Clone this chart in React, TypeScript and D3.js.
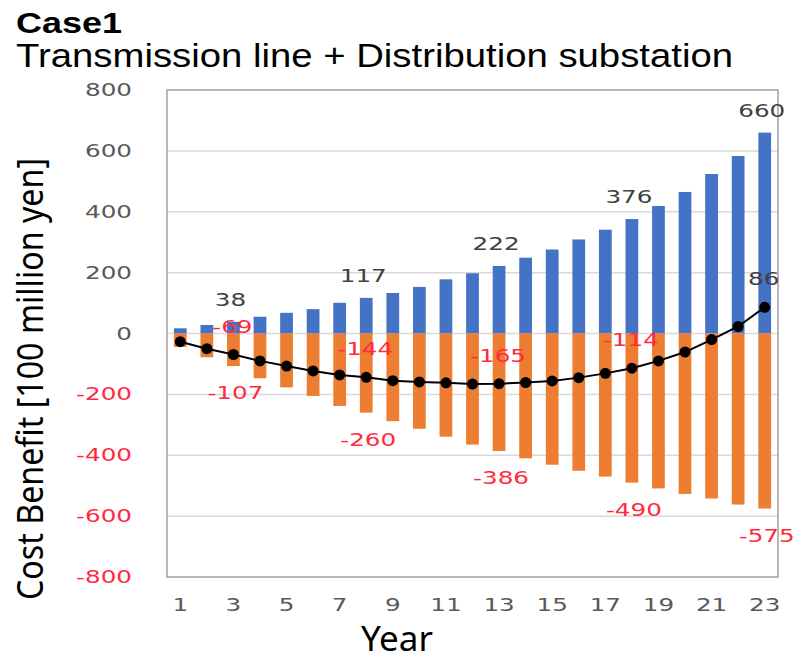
import * as d3 from "d3";
import { useEffect, useRef } from "react";

// values (100 million yen)
const years = [1, 2, 3, 4, 5, 6, 7, 8, 9, 10, 11, 12, 13, 14, 15, 16, 17, 18, 19, 20, 21, 22, 23];
const benefit = [17, 28, 38, 55, 68, 80, 101, 117, 133, 153, 178, 198, 222, 249, 276, 309, 341, 376, 419, 465, 524, 583, 660];
const cost = [-44, -78, -107, -147, -177, -205, -238, -260, -288, -313, -339, -365, -386, -410, -431, -451, -470, -490, -509, -527, -542, -562, -575];
const net = [-27, -50, -69, -90, -107, -123, -136, -144, -155, -159, -162, -166, -165, -161, -156, -145, -131, -114, -90, -61, -20, 23, 86];
const labelledYears = [3, 8, 13, 18, 23];
const yTicks = [800, 600, 400, 200, 0, -200, -400, -600, -800];
const xTicks = [1, 3, 5, 7, 9, 11, 13, 15, 17, 19, 21, 23];

const BLUE = "#4472c4";
const ORANGE = "#ed7d31";
const RED = "#ff2a3d";
const GRAY = "#595959";
const STRETCH = 1.45;

function App() {
  const ref = useRef<SVGSVGElement>(null);

  useEffect(() => {
    const svg = d3.select(ref.current);
    svg.selectAll("*").remove();

    const plot = { left: 167, right: 778, top: 90, bottom: 577 };

    const x = d3
      .scaleBand<number>()
      .domain(years)
      .range([plot.left, plot.right])
      .paddingInner(0.52)
      .paddingOuter(0.26);
    const cx = (yr: number) => (x(yr) as number) + x.bandwidth() / 2;

    const y = d3.scaleLinear().domain([-800, 800]).range([plot.bottom, plot.top]);

    // stretched chart text (the chart image in the slide is widened)
    const chartText = (g: any, px: number, py: number, txt: string, color: string, anchor = "middle") => {
      g.append("g")
        .attr("transform", `translate(${px},${py}) scale(${STRETCH},1)`)
        .append("text")
        .attr("text-anchor", anchor)
        .attr("dy", "0.36em")
        .style("font-family", "'DejaVu Sans', Verdana, sans-serif")
        .style("font-size", "17px")
        .style("fill", color)
        .text(txt);
    };

    // titles
    svg
      .append("text")
      .attr("x", 16)
      .attr("y", 33)
      .attr("textLength", 106)
      .attr("lengthAdjust", "spacingAndGlyphs")
      .style("font-family", "'Liberation Sans', Arial, sans-serif")
      .style("font-weight", "bold")
      .style("font-size", "29px")
      .style("fill", "#000")
      .text("Case1");

    svg
      .append("text")
      .attr("x", 16)
      .attr("y", 67)
      .attr("textLength", 717)
      .attr("lengthAdjust", "spacingAndGlyphs")
      .style("font-family", "'Liberation Sans', Arial, sans-serif")
      .style("font-size", "34px")
      .style("fill", "#000")
      .text("Transmission line + Distribution substation");

    // gridlines
    svg
      .append("g")
      .selectAll("line")
      .data(yTicks.filter((t) => t !== 800 && t !== -800))
      .join("line")
      .attr("x1", plot.left)
      .attr("x2", plot.right)
      .attr("y1", (d) => y(d))
      .attr("y2", (d) => y(d))
      .attr("stroke", "#d9d9d9")
      .attr("stroke-width", 1.5);

    // y tick labels
    const yLab = svg.append("g");
    yTicks.forEach((t) => chartText(yLab, 132, y(t), String(t), t < 0 ? RED : GRAY, "end"));

    // x tick labels
    const xLab = svg.append("g");
    xTicks.forEach((t) => chartText(xLab, cx(t), 605, String(t), GRAY));

    // bars
    svg
      .append("g")
      .selectAll("rect")
      .data(years.map((yr, i) => ({ yr, v: benefit[i] })))
      .join("rect")
      .attr("x", (d) => x(d.yr) as number)
      .attr("width", x.bandwidth())
      .attr("y", (d) => y(d.v))
      .attr("height", (d) => y(0) - y(d.v))
      .attr("fill", BLUE);

    svg
      .append("g")
      .selectAll("rect")
      .data(years.map((yr, i) => ({ yr, v: cost[i] })))
      .join("rect")
      .attr("x", (d) => x(d.yr) as number)
      .attr("width", x.bandwidth())
      .attr("y", y(0))
      .attr("height", (d) => y(d.v) - y(0))
      .attr("fill", ORANGE);

    // plot frame
    svg
      .append("rect")
      .attr("x", plot.left)
      .attr("y", plot.top)
      .attr("width", plot.right - plot.left)
      .attr("height", plot.bottom - plot.top)
      .attr("fill", "none")
      .attr("stroke", "#a0a0a0")
      .attr("stroke-width", 1.5);

    // net line
    const line = d3
      .line<number>()
      .x((_, i) => cx(years[i]))
      .y((d) => y(d));
    svg
      .append("path")
      .datum(net)
      .attr("d", line)
      .attr("fill", "none")
      .attr("stroke", "#000")
      .attr("stroke-width", 2);
    svg
      .append("g")
      .selectAll("circle")
      .data(net)
      .join("circle")
      .attr("cx", (_, i) => cx(years[i]))
      .attr("cy", (d) => y(d))
      .attr("r", 5.5)
      .attr("fill", "#000");

    // data labels
    const labels = svg.append("g");
    labelledYears.forEach((yr) => {
      const i = years.indexOf(yr);
      chartText(labels, cx(yr) - 3, y(benefit[i]) - 22, String(benefit[i]), "#404040");
      chartText(labels, cx(yr) + 2, y(cost[i]) + 27, String(cost[i]), RED);
      chartText(labels, cx(yr) - 1, y(net[i]) - 28, String(net[i]), net[i] < 0 ? RED : "#404040");
    });

    // axis titles
    svg
      .append("text")
      .attr("transform", "translate(43,379) rotate(-90)")
      .attr("text-anchor", "middle")
      .attr("textLength", 442)
      .attr("lengthAdjust", "spacingAndGlyphs")
      .style("font-family", "'Noto Sans', 'Open Sans', sans-serif")
      .style("font-size", "37px")
      .style("fill", "#000")
      .text("Cost Benefit [100 million yen]");

    svg
      .append("text")
      .attr("x", 397)
      .attr("y", 651)
      .attr("text-anchor", "middle")
      .style("font-family", "'Noto Sans', 'Open Sans', sans-serif")
      .style("font-size", "35px")
      .style("fill", "#000")
      .text("Year");
  }, []);

  return (
    <svg
      ref={ref}
      width={800}
      height={660}
      style={{ position: "absolute", left: 0, top: 0, display: "block", background: "#fff" }}
    />
  );
}

export default App;
